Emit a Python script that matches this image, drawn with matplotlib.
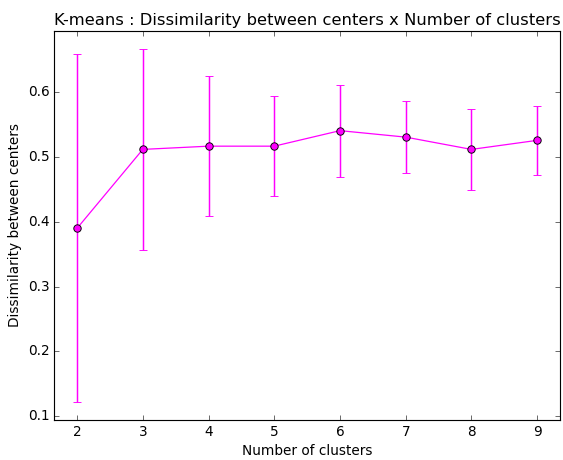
import matplotlib
matplotlib.use("Agg")
import matplotlib.pyplot as plt

# dissimilarity between k-means centers, mean and std per number of clusters
n_clusters = [2, 3, 4, 5, 6, 7, 8, 9]
dissim_mean = [0.390, 0.512, 0.517, 0.517, 0.541, 0.531, 0.512, 0.526]
dissim_std = [0.269, 0.156, 0.108, 0.077, 0.071, 0.056, 0.062, 0.053]

plt.style.use('classic')
plt.rcParams['figure.facecolor'] = 'white'
plt.rcParams['savefig.facecolor'] = 'white'
plt.rcParams['axes.autolimit_mode'] = 'data'

DPI = 82
fig = plt.figure(figsize=(563 / DPI, 460 / DPI), dpi=DPI)
ax = fig.add_axes([0.096, 0.087, 0.899, 0.846])

ax.errorbar(n_clusters, dissim_mean, yerr=dissim_std, color='magenta',
            ecolor='magenta', elinewidth=1.3, capthick=1.3, capsize=3.5,
            marker='o', markersize=6.5, markerfacecolor='magenta',
            markeredgecolor='black', markeredgewidth=0.8, linewidth=1.1)
ax.margins(0.05)
ax.set_xticks(n_clusters)
ax.set_yticks([0.1, 0.2, 0.3, 0.4, 0.5, 0.6])

ax.set_title('K-means : Dissimilarity between centers x Number of clusters')
ax.set_xlabel('Number of clusters')
ax.set_ylabel('Dissimilarity between centers')

fig.savefig('out.png', dpi=DPI)
